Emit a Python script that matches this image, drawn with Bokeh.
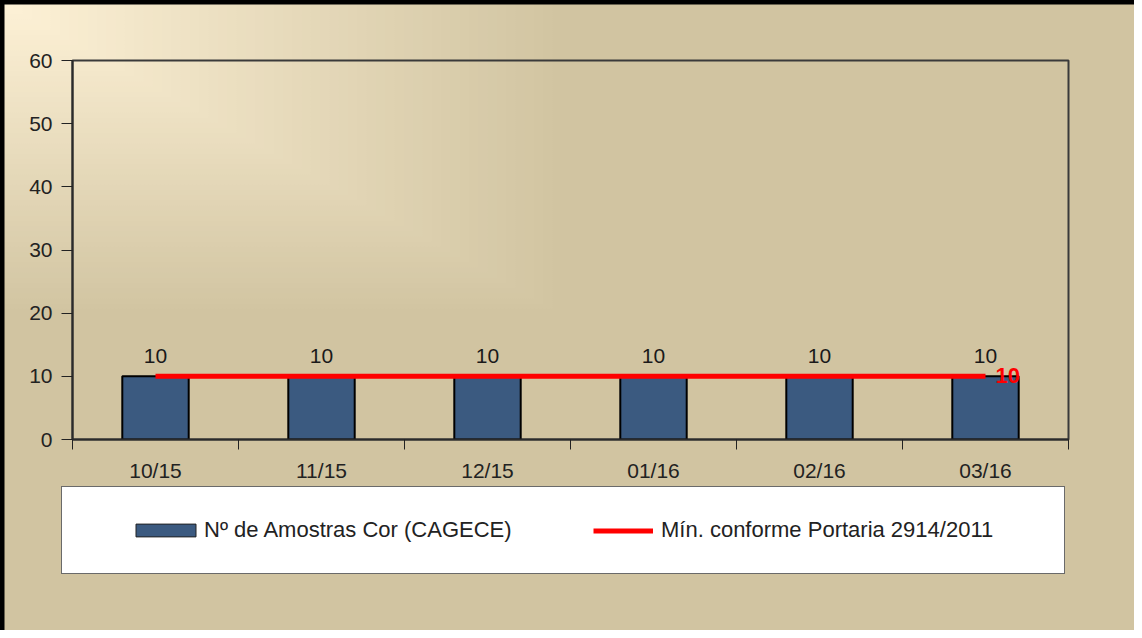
from bokeh.plotting import figure
from bokeh.layouts import column
from bokeh.models import Range1d, FixedTicker, Legend, LegendItem, ColumnDataSource
from bokeh.core.properties import value
from bokeh.embed import file_html
from bokeh.resources import INLINE

# ---- data ----
months = ["10/15", "11/15", "12/15", "01/16", "02/16", "03/16"]
amostras = [10, 10, 10, 10, 10, 10]
minimo = [10, 10, 10, 10, 10, 10]
y_ticks = [0, 10, 20, 30, 40, 50, 60]
bar_label = "Nº de Amostras Cor (CAGECE)"
line_label = "Mín. conforme Portaria 2914/2011"

FONT = "Liberation Sans"
TAN = (209, 196, 161)
LIGHT = (253, 241, 214)
BAR_FILL = "#3B5A80"

W, H = 1134, 630
H1 = 484
centers = [i + 0.5 for i in range(len(months))]

# ---- chart-area decoration as CSS background layers ----
layers = [
    f"linear-gradient(#000,#000) 0px 0px / {W}px 4.5px no-repeat",
    f"linear-gradient(#000,#000) 0px 0px / 4.5px {H}px no-repeat",
    "linear-gradient(#fff,#fff) 62px 487px / 1002px 86px no-repeat",
    "linear-gradient(#6a6a6a,#6a6a6a) 61px 486px / 1004px 88px no-repeat",
]
N = 60
for i in range(N):
    t = (i + 1) / N
    c = tuple(int(round(LIGHT[k] + (TAN[k] - LIGHT[k]) * (i + 0.5) / N)) for k in range(3))
    col = "#%02x%02x%02x" % c
    layers.append(f"linear-gradient({col},{col}) 0px 0px / {4 + 558 * t:.1f}px {4 + 310 * t:.1f}px no-repeat")
layers.append("#D1C4A1")

# ---- main chart ----
p = figure(width=W, height=H1, output_backend="svg", toolbar_location=None,
           x_range=Range1d(0, len(months)), y_range=Range1d(0, 60),
           min_border_left=72, min_border_right=66, min_border_top=60, min_border_bottom=H1 - 440)
p.background_fill_alpha = 0
p.border_fill_alpha = 0
p.outline_line_color = "#3a3a3a"
p.outline_line_width = 2
p.grid.visible = False

src = ColumnDataSource(dict(x=centers, top=amostras, lbl=[str(v) for v in amostras]))
p.vbar(x="x", top="top", width=0.4, bottom=0, source=src,
       fill_color=BAR_FILL, line_color="black", line_width=2)
p.text(x="x", y="top", text="lbl", source=src, text_align="center",
       text_baseline="alphabetic", y_offset=-20, text_font=value(FONT),
       text_font_size="21px", text_color="#1a1a1a")

p.line(x=centers, y=minimo, line_color="#FF0000", line_width=5)
p.text(x=[centers[-1]], y=[minimo[-1]], text=[str(minimo[-1])], x_offset=10, y_offset=-1,
       text_align="left", text_baseline="middle", text_font=value(FONT),
       text_font_style="bold", text_font_size="22px", text_color="#FF0000")

ax = p.xaxis[0]
ax.ticker = FixedTicker(ticks=centers, minor_ticks=list(range(len(months) + 1)))
ax.major_label_overrides = {c: m for c, m in zip(centers, months)}
ax.major_tick_out = 0
ax.major_tick_in = 0
ax.minor_tick_out = 10
ax.minor_tick_in = 0
ax.minor_tick_line_color = "#222222"
ax.axis_line_color = "#2b2b2b"
ax.axis_line_width = 2
ax.major_label_standoff = 9
ax.major_label_text_font = FONT
ax.major_label_text_font_size = "21px"
ax.major_label_text_color = "#222222"

ay = p.yaxis[0]
ay.ticker = FixedTicker(ticks=y_ticks)
ay.major_tick_out = 11
ay.major_tick_in = 0
ay.minor_tick_out = 0
ay.minor_tick_in = 0
ay.major_tick_line_color = "#222222"
ay.axis_line_color = "#2b2b2b"
ay.axis_line_width = 2
ay.major_label_standoff = 9
ay.major_label_text_font = FONT
ay.major_label_text_font_size = "21px"
ay.major_label_text_color = "#222222"

# ---- legend strip (proxy renderers lie outside its ranges) ----
H2 = H - H1
pl = figure(width=W, height=H2, output_backend="svg", toolbar_location=None,
            x_range=Range1d(0, 1), y_range=Range1d(0, 1),
            min_border=0, x_axis_type=None, y_axis_type=None)
pl.background_fill_alpha = 0
pl.border_fill_alpha = 0
pl.outline_line_alpha = 0
pl.grid.visible = False
lg_bar = pl.vbar(x=[-5], top=[-5], bottom=[-6], width=0.4, fill_color=BAR_FILL,
                 line_color="#222222", line_width=1)
lg_line = pl.line(x=[-6, -5], y=[-5, -5], line_color="#FF0000", line_width=5)

common = dict(orientation="horizontal", padding=0, margin=0,
              background_fill_alpha=0, border_line_alpha=0,
              label_text_font=FONT, label_text_font_size="22px",
              label_text_color="#222222")
legend_bar = Legend(items=[LegendItem(label=bar_label, renderers=[lg_bar])],
                    location=(56, 87), glyph_width=75, glyph_height=16,
                    label_standoff=1, **common)
legend_line = Legend(items=[LegendItem(label=line_label, renderers=[lg_line])],
                     location=(521, 87), glyph_width=60, glyph_height=13,
                     label_standoff=8, **common)
pl.add_layout(legend_bar, "center")
pl.add_layout(legend_line, "center")

layout = column(p, pl, spacing=0)
layout.styles = {"background": ", ".join(layers)}

open("out.html", "w").write(file_html(layout, INLINE))
